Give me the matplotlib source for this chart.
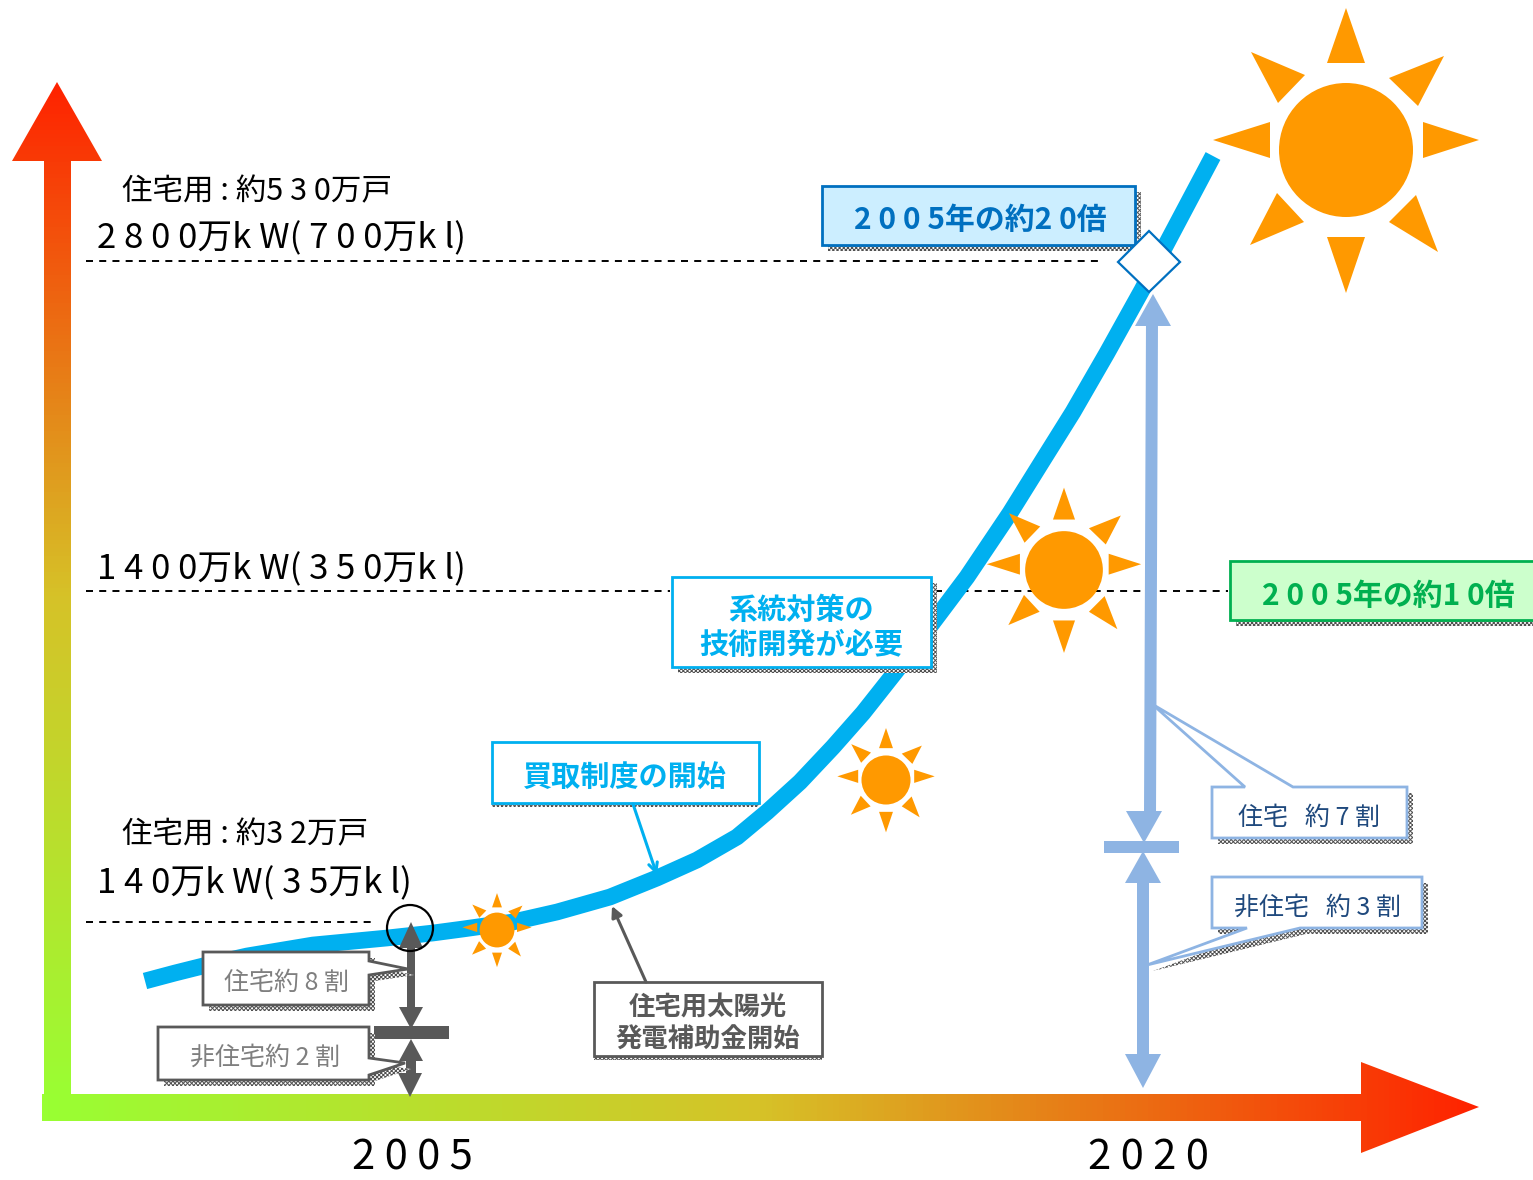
# -*- coding: utf-8 -*-
import numpy as np
import matplotlib
matplotlib.use('Agg')
from matplotlib import pyplot as plt
from matplotlib.colors import LinearSegmentedColormap
from matplotlib.patches import Polygon, Circle

FONT = ['Noto Sans CJK JP', 'DejaVu Sans']
plt.rcParams['font.family'] = FONT
plt.rcParams['hatch.linewidth'] = 0.7

# curve, pixel coordinates
curve_x = [145, 175, 203, 247, 313, 387, 433, 463, 513, 557, 610, 657, 697, 737, 767, 800, 833, 863, 897,
           940, 967, 1010, 1043, 1073, 1107, 1142, 1213]
curve_y = [981, 973, 966, 956, 945, 938, 933, 929, 922, 912, 897, 878, 860, 837, 812, 782, 747, 713, 670,
           613, 577, 513, 460, 412, 353, 290, 156]

dash_y = [261, 591, 591, 922]
dash_x0 = [86, 86, 935, 86]
dash_x1 = [1100, 670, 1228, 375]

year_labels = ['2 0 0 5', '2 0 2 0']
year_x = [412, 1148]

level_labels = ['2 8 0 0万k W( 7 0 0万k l)',
                '1 4 0 0万k W( 3 5 0万k l)',
                '1 4 0万k W( 3 5万k l)']
level_y = [239, 570, 884]
house_labels = ['住宅用 : 約5 3 0万戸', '住宅用 : 約3 2万戸']
house_y = [192, 835]

sun_cx = [1346, 1064, 886, 497]
sun_cy = [150, 570, 780, 930]
sun_scale = [1.0, 0.58, 0.366, 0.26]
sun_radius = 67
# eight rays of the big sun, offsets from its centre
ray_dx = [[-19, 0, 19], [43, 98, 72], [77, 133, 77], [70, 92, 43],
          [19, 0, -19], [-42, -96, -69], [-76, -133, -76], [-68, -95, -41]]
ray_dy = [[-87, -142, -87], [-72, -94, -44], [-28, -10, 8], [45, 102, 72],
          [87, 143, 87], [72, 95, 43], [8, -10, -28], [-47, -98, -75]]

fig = plt.figure(figsize=(15.33, 11.8), dpi=100)
ax = fig.add_axes([0, 0, 1, 1])
ax.set_xlim(0, 1533)
ax.set_ylim(1180, 0)
ax.axis('off')


def gradient_arrow(pts, grad, extent, colors):
    cmap = LinearSegmentedColormap.from_list('g', colors)
    patch = Polygon(pts, closed=True, fc='none', ec='none', transform=ax.transData)
    ax.add_patch(patch)
    im = ax.imshow(grad, cmap=cmap, extent=extent, aspect='auto', zorder=2)
    im.set_clip_path(patch)


def box(pts, fc, ec, shadow=(6, 6), lw=2):
    pts = np.array(pts, dtype=float)
    ax.add_patch(Polygon(pts + shadow, closed=True, fc='white', ec='#505050', hatch='xxxxxxxx', lw=0, zorder=5))
    ax.add_patch(Polygon(pts, closed=True, fc=fc, ec=ec, lw=lw, zorder=6, joinstyle='miter'))


def rect(x0, y0, x1, y1):
    return [(x0, y0), (x1, y0), (x1, y1), (x0, y1)]


def label(x, y, s, size, color='black', weight='normal', ha='center'):
    ax.text(x, y, s, fontsize=size, color=color, fontweight=weight, ha=ha, va='center',
            zorder=7, family=FONT)


def vert_arrow(xs, ys, color, z=4):
    ax.add_patch(Polygon(list(zip(xs, ys)), closed=True, fc=color, ec='none', zorder=z))


colors = ['#99ff33', '#d6c228', '#ff2200']
gradient_arrow([(44, 1110), (44, 161), (12, 161), (57, 82), (102, 161), (71, 161), (71, 1110)],
               np.linspace(0, 1, 256).reshape(-1, 1)[::-1], (12, 102, 1110, 82), colors)
gradient_arrow([(42, 1094), (1361, 1094), (1361, 1062), (1479, 1107), (1361, 1153), (1361, 1121), (42, 1121)],
               np.linspace(0, 1, 256).reshape(1, -1), (42, 1479, 1153, 1062), colors)
ax.set_xlim(0, 1533)
ax.set_ylim(1180, 0)

for y, x0, x1 in zip(dash_y, dash_x0, dash_x1):
    ax.plot([x0, x1], [y, y], color='black', lw=1.4, dashes=(3.6, 3.2), zorder=1)

ax.plot(curve_x, curve_y, color='#00b0f0', lw=12, solid_capstyle='butt', solid_joinstyle='round', zorder=3)

# suns
for cx, cy, sc in zip(sun_cx, sun_cy, sun_scale):
    ax.add_patch(Circle((cx, cy), sun_radius * sc, fc='#ff9900', ec='none', zorder=4))
    for dx, dy in zip(ray_dx, ray_dy):
        pts = [(cx + a * sc, cy + b * sc) for a, b in zip(dx, dy)]
        ax.add_patch(Polygon(pts, closed=True, fc='#ff9900', ec='none', zorder=4))

for s, y in zip(level_labels, level_y):
    label(97, y, s, 25, ha='left')
for s, y in zip(house_labels, house_y):
    label(122, y, s, 22, ha='left')
for s, x in zip(year_labels, year_x):
    label(x, 1158, s, 30)

# 2005 arrows
grey = '#595959'
vert_arrow([407, 407, 399, 411, 423, 415, 415], [1008, 948, 948, 922, 948, 948, 1008], grey)
vert_arrow([399, 411, 423], [1007, 1029, 1007], grey)
vert_arrow([374, 449, 449, 374], [1026, 1026, 1039, 1039], grey)
vert_arrow([399, 411, 423], [1061, 1039, 1061], grey)
vert_arrow([406, 416, 416, 406], [1060, 1060, 1075, 1075], grey)
vert_arrow([398, 410, 422], [1073, 1097, 1073], grey)
ax.add_patch(Circle((410, 928), 23, fc='none', ec='black', lw=1.6, zorder=5))

# 2020 arrows
blue = '#8eb4e3'
vert_arrow([1146, 1158, 1156, 1144], [320, 320, 815, 815], blue)
vert_arrow([1135, 1153, 1171], [326, 294, 326], blue)
vert_arrow([1126, 1144, 1162], [811, 843, 811], blue)
vert_arrow([1104, 1179, 1179, 1104], [841, 841, 853, 853], blue)
vert_arrow([1125, 1143, 1161], [883, 851, 883], blue)
vert_arrow([1137, 1149, 1149, 1137], [880, 880, 1058, 1058], blue)
vert_arrow([1125, 1143, 1161], [1054, 1088, 1054], blue)

# diamond on the curve
ax.add_patch(Polygon([(1118, 262), (1149, 231), (1180, 262), (1149, 292)], closed=True,
                     fc='white', ec='#0070c0', lw=1.6, zorder=8))

# boxes
box(rect(822, 186, 1135, 245), '#cceeff', '#0070c0')
label(980, 220, '2 0 0 5年の約2 0倍', 21.5, '#0070c0', 'bold')
box(rect(1230, 561, 1540, 620), '#ccffcc', '#00b050')
label(1388, 596, '2 0 0 5年の約1 0倍', 21.5, '#00b050', 'bold')
box(rect(672, 577, 931, 667), 'white', '#00b0f0')
label(801, 610, '系統対策の', 21, '#00b0f0', 'bold')
label(801, 645, '技術開発が必要', 21, '#00b0f0', 'bold')
box(rect(492, 742, 759, 803), 'white', '#00b0f0', shadow=(0, 4))
label(625, 777, '買取制度の開始', 21, '#00b0f0', 'bold')
box(rect(594, 982, 822, 1056), 'white', grey, shadow=(0, 4))
label(708, 1008, '住宅用太陽光', 19, grey, 'bold')
label(708, 1040, '発電補助金開始', 19, grey, 'bold')

box([(1212, 787), (1245, 787), (1152, 704), (1293, 787), (1407, 787), (1407, 838), (1212, 838)],
    'white', blue, shadow=(6, 6))
label(1309, 818, '住宅   約 7 割', 18, '#1f497d')
box([(1212, 877), (1422, 877), (1422, 928), (1300, 928), (1147, 965), (1247, 928), (1212, 928)],
    'white', blue, shadow=(6, 6))
label(1317, 908, '非住宅   約 3 割', 18, '#1f497d')
box([(203, 952), (369, 952), (369, 961), (408, 969), (369, 975), (369, 1005), (203, 1005)],
    'white', grey, shadow=(6, 6))
label(287, 983, '住宅約 8 割', 18, '#7f7f7f')
box([(158, 1027), (369, 1027), (369, 1058), (405, 1063), (369, 1075), (369, 1080), (158, 1080)],
    'white', grey, shadow=(6, 6))
label(265, 1058, '非住宅約 2 割', 18, '#7f7f7f')

# pointer arrows
ax.annotate('', xy=(657, 875), xytext=(633, 804), zorder=9,
            arrowprops=dict(arrowstyle='->', color='#00b0f0', lw=2.2, shrinkA=0, shrinkB=0, mutation_scale=16))
ax.annotate('', xy=(612, 906), xytext=(646, 982), zorder=9,
            arrowprops=dict(arrowstyle='-|>', color=grey, lw=2.2, shrinkA=0, shrinkB=0, mutation_scale=16))

fig.savefig('out.png', dpi=100)
